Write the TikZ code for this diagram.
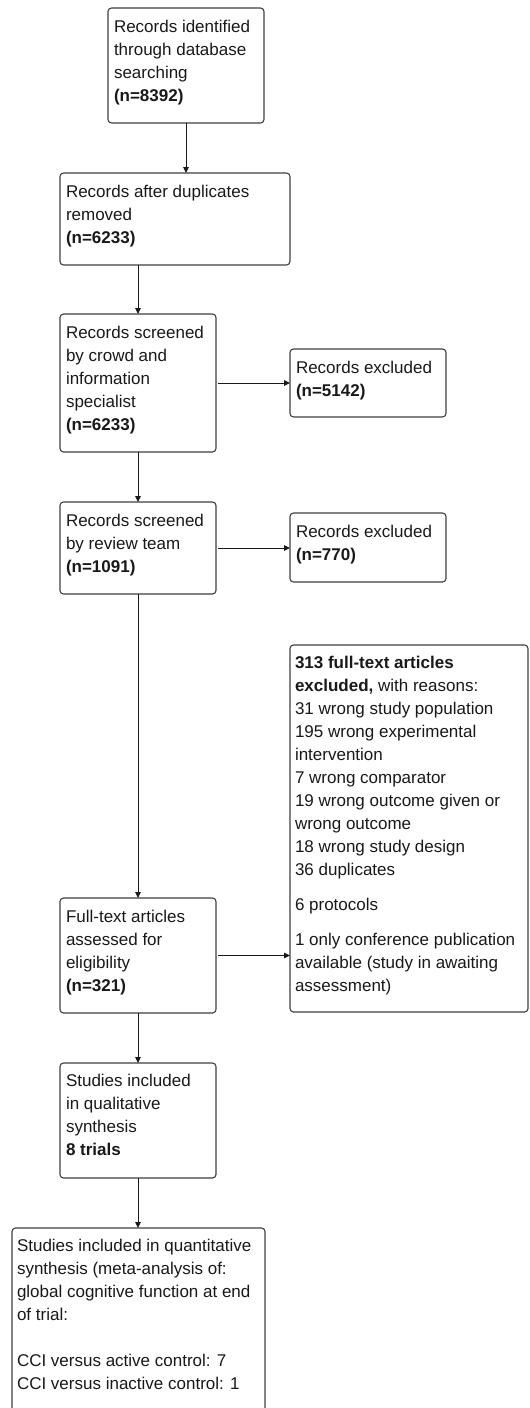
\documentclass[tikz,border=0pt]{standalone}
\usepackage{fontspec}
\setmainfont{Liberation Sans}
\usetikzlibrary{arrows.meta,fit,calc}
\tikzset{
  box/.style={draw=black!75, line width=1.1pt, rounded corners=3.5pt, inner sep=0pt, outer sep=0pt},
  txt/.style={anchor=north west, inner sep=0pt, outer sep=0pt, align=left, text=black!90,
    font=\fontsize{17}{23}\selectfont},
  arr/.style={-{Triangle[length=6pt,width=5.5pt]}, line width=0.9pt, draw=black!90}
}
\begin{document}
\begin{tikzpicture}[x=1pt,y=-1pt]
\useasboundingbox (0,0) rectangle (530,1408);
\begin{scope}
\clip (0,0) rectangle (530,1408);
\fill[white] (0,0) rectangle (530,1408);
% boxes
\node[box, fit={(108,8) (264,123)}] (b1) {};
\node[box, fit={(60,173) (290,265)}] (b2) {};
\node[box, fit={(60,314) (216,452)}] (b3) {};
\node[box, fit={(290,349) (446,417)}] (e1) {};
\node[box, fit={(60,502) (216,594)}] (b4) {};
\node[box, fit={(290,513) (446,582)}] (e2) {};
\node[box, fit={(290,645) (528,1012)}] (e3) {};
\node[box, fit={(60,898) (216,1013)}] (b5) {};
\node[box, fit={(60,1063) (216,1178)}] (b6) {};
\node[box, fit={(12,1228) (265,1440)}] (b7) {};
% texts
\node[txt] (t1) at ([shift={(6,8)}]b1.north west) {\strut Records identified\\through database\\searching\\\textbf{(n=8392)}};
\node[txt] (t2) at ([shift={(6,8)}]b2.north west) {\strut Records after duplicates\\removed\\\textbf{(n=6233)}};
\node[txt] (t3) at ([shift={(6,8)}]b3.north west) {\strut Records screened\\by crowd and\\information\\specialist\\\textbf{(n=6233)}};
\node[txt] (te1) at ([shift={(6,8)}]e1.north west) {\strut Records excluded\\\textbf{(n=5142)}};
\node[txt] (t4) at ([shift={(6,8)}]b4.north west) {\strut Records screened\\by review team\\\textbf{(n=1091)}};
\node[txt] (te2) at ([shift={(6,8)}]e2.north west) {\strut Records excluded\\\textbf{(n=770)}};
\node[txt] (te3) at ([shift={(5,7)}]e3.north west) {\strut\textbf{313 full-text articles}\\\textbf{excluded,} with reasons:\\31 wrong study population\\195 wrong experimental\\intervention\\7 wrong comparator\\19 wrong outcome given or\\wrong outcome\\18 wrong study design\\36 duplicates\\[12pt]6 protocols\\[12pt]1 only conference publication\\available (study in awaiting\\assessment)};
\node[txt] (t5) at ([shift={(6,8)}]b5.north west) {\strut Full-text articles\\assessed for\\eligibility\\\textbf{(n=321)}};
\node[txt] (t6) at ([shift={(6,7)}]b6.north west) {\strut Studies included\\in qualitative\\synthesis\\\textbf{8 trials}};
\node[txt] (t7) at ([shift={(5,7)}]b7.north west) {\strut Studies included in quantitative\\synthesis (meta-analysis of:\\global cognitive function at end\\of trial:\\[23pt]CCI versus active control: 7\\CCI versus inactive control: 1};
% connectors
\draw[arr] (b1.south) -- (b1.south |- b2.north);
\draw[arr] (b3.north |- b2.south) -- (b3.north);
\draw[arr] (b3.south) -- (b4.north);
\draw[arr] (b4.south) -- (b5.north);
\draw[arr] (b5.south) -- (b6.north);
\draw[arr] (b6.south) -- (b6.south |- b7.north);
\draw[arr, shorten <=2pt] (b3.east) -- (e1.west);
\draw[arr, shorten <=2pt] (b4.east) -- (b4.east -| e2.west);
\draw[arr, shorten <=2pt] (b5.east) -- (b5.east -| e3.west);
\end{scope}
\end{tikzpicture}
\end{document}
